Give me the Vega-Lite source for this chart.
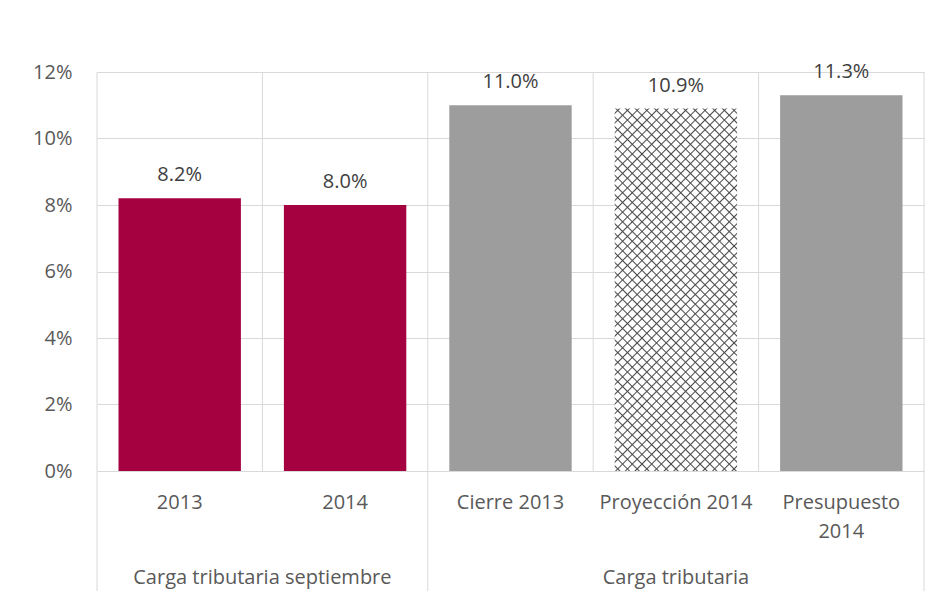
{
  "$schema": "https://vega.github.io/schema/vega-lite/v6.json",
  "width": 827,
  "height": 399,
  "autosize": {"type": "none"},
  "padding": {"left": 97, "top": 72, "right": 9, "bottom": 141},
  "background": "white",
  "config": {
    "font": "Open Sans",
    "view": {"stroke": null},
    "scale": {"bandPaddingInner": 0, "bandPaddingOuter": 0},
    "axisX": {"domain": false, "ticks": false, "grid": false, "labelPadding": 21, "labelFontSize": 20, "labelColor": "#595959", "labelAngle": 0, "labelLineHeight": 29, "labelFont": "Open Sans"},
    "axisY": {"domain": false, "ticks": false, "grid": true, "labelPadding": 25, "labelFontSize": 20, "labelColor": "#595959", "gridColor": "#d9d9d9", "gridWidth": 1, "labelFont": "Open Sans"}
  },
  "datasets": {
    "bars": [
      {"cat": "2013", "grupo": "Carga tributaria septiembre", "value": 0.082},
      {"cat": "2014", "grupo": "Carga tributaria septiembre", "value": 0.080},
      {"cat": "Cierre 2013", "grupo": "Carga tributaria", "value": 0.110},
      {"cat": "Proyección 2014", "grupo": "Carga tributaria", "value": 0.109},
      {"cat": "Presupuesto 2014", "grupo": "Carga tributaria", "value": 0.113}
    ],
    "groups": [
      {"grupo": "Carga tributaria septiembre", "cat": "2014"},
      {"grupo": "Carga tributaria", "cat": "Proyección 2014"}
    ]
  },
  "layer": [
    {
      "data": {"name": "bars"},
      "mark": {"type": "rule", "color": "#d9d9d9", "strokeWidth": 1},
      "encoding": {
        "x": {"field": "cat", "type": "nominal", "bandPosition": 0, "title": null,
              "scale": {"domain": ["2013", "2014", "Cierre 2013", "Proyección 2014", "Presupuesto 2014"]},
              "axis": {"labelExpr": "datum.label == 'Presupuesto 2014' ? ['Presupuesto', '2014'] : datum.label"}},
        "y": {"datum": 0.12, "type": "quantitative", "title": null},
        "y2": {"datum": 0}
      }
    },
    {
      "data": {"name": "bars"},
      "transform": [{"filter": "datum.cat == '2013' || datum.cat == 'Cierre 2013'"}],
      "mark": {"type": "rule", "color": "#d9d9d9", "strokeWidth": 1},
      "encoding": {
        "x": {"field": "cat", "type": "nominal", "bandPosition": 0, "title": null},
        "y": {"datum": 0, "type": "quantitative", "title": null},
        "y2": {"datum": -0.0361}
      }
    },
    {
      "data": {"name": "bars"},
      "transform": [{"filter": "datum.cat == 'Presupuesto 2014'"}],
      "mark": {"type": "rule", "color": "#d9d9d9", "strokeWidth": 1},
      "encoding": {
        "x": {"field": "cat", "type": "nominal", "bandPosition": 1, "title": null},
        "y": {"datum": 0.12, "type": "quantitative", "title": null},
        "y2": {"datum": -0.0361}
      }
    },
    {
      "data": {"name": "bars"},
      "transform": [{"filter": "datum.cat != 'Proyección 2014'"}],
      "mark": {"type": "bar", "width": {"band": 0.74}},
      "encoding": {
        "x": {"field": "cat", "type": "nominal", "title": null},
        "y": {"field": "value", "type": "quantitative", "title": null,
              "scale": {"domain": [0, 0.12], "nice": false},
              "axis": {"values": [0, 0.02, 0.04, 0.06, 0.08, 0.1, 0.12], "format": ".0%", "grid": true}},
        "color": {"field": "grupo", "type": "nominal", "legend": null,
                  "scale": {"domain": ["Carga tributaria septiembre", "Carga tributaria"], "range": ["#a50040", "#9d9d9d"]}}
      }
    },
    {
      "data": {"name": "bars"},
      "transform": [{"filter": "datum.cat == 'Proyección 2014'"}],
      "mark": {"type": "bar", "width": {"band": 0.74},
        "fill": {"gradient": "linear", "x1": 0, "y1": 0, "x2": 0.405, "y2": 1.2, "stops": [
          {"offset":0.007,"color":"#fff"},{"offset":0.01,"color":"#4a4a4a"},{"offset":0.013,"color":"#fff"},
          {"offset":0.027,"color":"#fff"},{"offset":0.03,"color":"#4a4a4a"},{"offset":0.033,"color":"#fff"},
          {"offset":0.047,"color":"#fff"},{"offset":0.05,"color":"#4a4a4a"},{"offset":0.053,"color":"#fff"},
          {"offset":0.067,"color":"#fff"},{"offset":0.07,"color":"#4a4a4a"},{"offset":0.073,"color":"#fff"},
          {"offset":0.087,"color":"#fff"},{"offset":0.09,"color":"#4a4a4a"},{"offset":0.093,"color":"#fff"},
          {"offset":0.107,"color":"#fff"},{"offset":0.11,"color":"#4a4a4a"},{"offset":0.113,"color":"#fff"},
          {"offset":0.127,"color":"#fff"},{"offset":0.13,"color":"#4a4a4a"},{"offset":0.133,"color":"#fff"},
          {"offset":0.147,"color":"#fff"},{"offset":0.15,"color":"#4a4a4a"},{"offset":0.153,"color":"#fff"},
          {"offset":0.167,"color":"#fff"},{"offset":0.17,"color":"#4a4a4a"},{"offset":0.173,"color":"#fff"},
          {"offset":0.187,"color":"#fff"},{"offset":0.19,"color":"#4a4a4a"},{"offset":0.193,"color":"#fff"},
          {"offset":0.207,"color":"#fff"},{"offset":0.21,"color":"#4a4a4a"},{"offset":0.213,"color":"#fff"},
          {"offset":0.227,"color":"#fff"},{"offset":0.23,"color":"#4a4a4a"},{"offset":0.233,"color":"#fff"},
          {"offset":0.247,"color":"#fff"},{"offset":0.25,"color":"#4a4a4a"},{"offset":0.253,"color":"#fff"},
          {"offset":0.267,"color":"#fff"},{"offset":0.27,"color":"#4a4a4a"},{"offset":0.273,"color":"#fff"},
          {"offset":0.287,"color":"#fff"},{"offset":0.29,"color":"#4a4a4a"},{"offset":0.293,"color":"#fff"},
          {"offset":0.307,"color":"#fff"},{"offset":0.31,"color":"#4a4a4a"},{"offset":0.313,"color":"#fff"},
          {"offset":0.327,"color":"#fff"},{"offset":0.33,"color":"#4a4a4a"},{"offset":0.333,"color":"#fff"},
          {"offset":0.347,"color":"#fff"},{"offset":0.35,"color":"#4a4a4a"},{"offset":0.353,"color":"#fff"},
          {"offset":0.367,"color":"#fff"},{"offset":0.37,"color":"#4a4a4a"},{"offset":0.373,"color":"#fff"},
          {"offset":0.387,"color":"#fff"},{"offset":0.39,"color":"#4a4a4a"},{"offset":0.393,"color":"#fff"},
          {"offset":0.407,"color":"#fff"},{"offset":0.41,"color":"#4a4a4a"},{"offset":0.413,"color":"#fff"},
          {"offset":0.427,"color":"#fff"},{"offset":0.43,"color":"#4a4a4a"},{"offset":0.433,"color":"#fff"},
          {"offset":0.447,"color":"#fff"},{"offset":0.45,"color":"#4a4a4a"},{"offset":0.453,"color":"#fff"},
          {"offset":0.467,"color":"#fff"},{"offset":0.47,"color":"#4a4a4a"},{"offset":0.473,"color":"#fff"},
          {"offset":0.487,"color":"#fff"},{"offset":0.49,"color":"#4a4a4a"},{"offset":0.493,"color":"#fff"},
          {"offset":0.507,"color":"#fff"},{"offset":0.51,"color":"#4a4a4a"},{"offset":0.513,"color":"#fff"},
          {"offset":0.527,"color":"#fff"},{"offset":0.53,"color":"#4a4a4a"},{"offset":0.533,"color":"#fff"},
          {"offset":0.547,"color":"#fff"},{"offset":0.55,"color":"#4a4a4a"},{"offset":0.553,"color":"#fff"},
          {"offset":0.567,"color":"#fff"},{"offset":0.57,"color":"#4a4a4a"},{"offset":0.573,"color":"#fff"},
          {"offset":0.587,"color":"#fff"},{"offset":0.59,"color":"#4a4a4a"},{"offset":0.593,"color":"#fff"},
          {"offset":0.607,"color":"#fff"},{"offset":0.61,"color":"#4a4a4a"},{"offset":0.613,"color":"#fff"},
          {"offset":0.627,"color":"#fff"},{"offset":0.63,"color":"#4a4a4a"},{"offset":0.633,"color":"#fff"},
          {"offset":0.647,"color":"#fff"},{"offset":0.65,"color":"#4a4a4a"},{"offset":0.653,"color":"#fff"},
          {"offset":0.667,"color":"#fff"},{"offset":0.67,"color":"#4a4a4a"},{"offset":0.673,"color":"#fff"},
          {"offset":0.687,"color":"#fff"},{"offset":0.69,"color":"#4a4a4a"},{"offset":0.693,"color":"#fff"},
          {"offset":0.707,"color":"#fff"},{"offset":0.71,"color":"#4a4a4a"},{"offset":0.713,"color":"#fff"},
          {"offset":0.727,"color":"#fff"},{"offset":0.73,"color":"#4a4a4a"},{"offset":0.733,"color":"#fff"},
          {"offset":0.747,"color":"#fff"},{"offset":0.75,"color":"#4a4a4a"},{"offset":0.753,"color":"#fff"},
          {"offset":0.767,"color":"#fff"},{"offset":0.77,"color":"#4a4a4a"},{"offset":0.773,"color":"#fff"},
          {"offset":0.787,"color":"#fff"},{"offset":0.79,"color":"#4a4a4a"},{"offset":0.793,"color":"#fff"},
          {"offset":0.807,"color":"#fff"},{"offset":0.81,"color":"#4a4a4a"},{"offset":0.813,"color":"#fff"},
          {"offset":0.827,"color":"#fff"},{"offset":0.83,"color":"#4a4a4a"},{"offset":0.833,"color":"#fff"},
          {"offset":0.847,"color":"#fff"},{"offset":0.85,"color":"#4a4a4a"},{"offset":0.853,"color":"#fff"},
          {"offset":0.867,"color":"#fff"},{"offset":0.87,"color":"#4a4a4a"},{"offset":0.873,"color":"#fff"},
          {"offset":0.887,"color":"#fff"},{"offset":0.89,"color":"#4a4a4a"},{"offset":0.893,"color":"#fff"},
          {"offset":0.907,"color":"#fff"},{"offset":0.91,"color":"#4a4a4a"},{"offset":0.913,"color":"#fff"},
          {"offset":0.927,"color":"#fff"},{"offset":0.93,"color":"#4a4a4a"},{"offset":0.933,"color":"#fff"},
          {"offset":0.947,"color":"#fff"},{"offset":0.95,"color":"#4a4a4a"},{"offset":0.953,"color":"#fff"},
          {"offset":0.967,"color":"#fff"},{"offset":0.97,"color":"#4a4a4a"},{"offset":0.973,"color":"#fff"},
          {"offset":0.987,"color":"#fff"},{"offset":0.99,"color":"#4a4a4a"},{"offset":0.993,"color":"#fff"}
        ]}},
      "encoding": {
        "x": {"field": "cat", "type": "nominal", "title": null},
        "y": {"field": "value", "type": "quantitative", "title": null}
      }
    },
    {
      "data": {"name": "bars"},
      "transform": [{"filter": "datum.cat == 'Proyección 2014'"}],
      "mark": {"type": "bar", "width": {"band": 0.74},
        "fill": {"gradient": "linear", "x1": 1, "y1": 0, "x2": 0.595, "y2": 1.2, "stops": [
          {"offset":0.007,"color":"rgba(74,74,74,0)"},{"offset":0.01,"color":"#4a4a4a"},{"offset":0.013,"color":"rgba(74,74,74,0)"},
          {"offset":0.027,"color":"rgba(74,74,74,0)"},{"offset":0.03,"color":"#4a4a4a"},{"offset":0.033,"color":"rgba(74,74,74,0)"},
          {"offset":0.047,"color":"rgba(74,74,74,0)"},{"offset":0.05,"color":"#4a4a4a"},{"offset":0.053,"color":"rgba(74,74,74,0)"},
          {"offset":0.067,"color":"rgba(74,74,74,0)"},{"offset":0.07,"color":"#4a4a4a"},{"offset":0.073,"color":"rgba(74,74,74,0)"},
          {"offset":0.087,"color":"rgba(74,74,74,0)"},{"offset":0.09,"color":"#4a4a4a"},{"offset":0.093,"color":"rgba(74,74,74,0)"},
          {"offset":0.107,"color":"rgba(74,74,74,0)"},{"offset":0.11,"color":"#4a4a4a"},{"offset":0.113,"color":"rgba(74,74,74,0)"},
          {"offset":0.127,"color":"rgba(74,74,74,0)"},{"offset":0.13,"color":"#4a4a4a"},{"offset":0.133,"color":"rgba(74,74,74,0)"},
          {"offset":0.147,"color":"rgba(74,74,74,0)"},{"offset":0.15,"color":"#4a4a4a"},{"offset":0.153,"color":"rgba(74,74,74,0)"},
          {"offset":0.167,"color":"rgba(74,74,74,0)"},{"offset":0.17,"color":"#4a4a4a"},{"offset":0.173,"color":"rgba(74,74,74,0)"},
          {"offset":0.187,"color":"rgba(74,74,74,0)"},{"offset":0.19,"color":"#4a4a4a"},{"offset":0.193,"color":"rgba(74,74,74,0)"},
          {"offset":0.207,"color":"rgba(74,74,74,0)"},{"offset":0.21,"color":"#4a4a4a"},{"offset":0.213,"color":"rgba(74,74,74,0)"},
          {"offset":0.227,"color":"rgba(74,74,74,0)"},{"offset":0.23,"color":"#4a4a4a"},{"offset":0.233,"color":"rgba(74,74,74,0)"},
          {"offset":0.247,"color":"rgba(74,74,74,0)"},{"offset":0.25,"color":"#4a4a4a"},{"offset":0.253,"color":"rgba(74,74,74,0)"},
          {"offset":0.267,"color":"rgba(74,74,74,0)"},{"offset":0.27,"color":"#4a4a4a"},{"offset":0.273,"color":"rgba(74,74,74,0)"},
          {"offset":0.287,"color":"rgba(74,74,74,0)"},{"offset":0.29,"color":"#4a4a4a"},{"offset":0.293,"color":"rgba(74,74,74,0)"},
          {"offset":0.307,"color":"rgba(74,74,74,0)"},{"offset":0.31,"color":"#4a4a4a"},{"offset":0.313,"color":"rgba(74,74,74,0)"},
          {"offset":0.327,"color":"rgba(74,74,74,0)"},{"offset":0.33,"color":"#4a4a4a"},{"offset":0.333,"color":"rgba(74,74,74,0)"},
          {"offset":0.347,"color":"rgba(74,74,74,0)"},{"offset":0.35,"color":"#4a4a4a"},{"offset":0.353,"color":"rgba(74,74,74,0)"},
          {"offset":0.367,"color":"rgba(74,74,74,0)"},{"offset":0.37,"color":"#4a4a4a"},{"offset":0.373,"color":"rgba(74,74,74,0)"},
          {"offset":0.387,"color":"rgba(74,74,74,0)"},{"offset":0.39,"color":"#4a4a4a"},{"offset":0.393,"color":"rgba(74,74,74,0)"},
          {"offset":0.407,"color":"rgba(74,74,74,0)"},{"offset":0.41,"color":"#4a4a4a"},{"offset":0.413,"color":"rgba(74,74,74,0)"},
          {"offset":0.427,"color":"rgba(74,74,74,0)"},{"offset":0.43,"color":"#4a4a4a"},{"offset":0.433,"color":"rgba(74,74,74,0)"},
          {"offset":0.447,"color":"rgba(74,74,74,0)"},{"offset":0.45,"color":"#4a4a4a"},{"offset":0.453,"color":"rgba(74,74,74,0)"},
          {"offset":0.467,"color":"rgba(74,74,74,0)"},{"offset":0.47,"color":"#4a4a4a"},{"offset":0.473,"color":"rgba(74,74,74,0)"},
          {"offset":0.487,"color":"rgba(74,74,74,0)"},{"offset":0.49,"color":"#4a4a4a"},{"offset":0.493,"color":"rgba(74,74,74,0)"},
          {"offset":0.507,"color":"rgba(74,74,74,0)"},{"offset":0.51,"color":"#4a4a4a"},{"offset":0.513,"color":"rgba(74,74,74,0)"},
          {"offset":0.527,"color":"rgba(74,74,74,0)"},{"offset":0.53,"color":"#4a4a4a"},{"offset":0.533,"color":"rgba(74,74,74,0)"},
          {"offset":0.547,"color":"rgba(74,74,74,0)"},{"offset":0.55,"color":"#4a4a4a"},{"offset":0.553,"color":"rgba(74,74,74,0)"},
          {"offset":0.567,"color":"rgba(74,74,74,0)"},{"offset":0.57,"color":"#4a4a4a"},{"offset":0.573,"color":"rgba(74,74,74,0)"},
          {"offset":0.587,"color":"rgba(74,74,74,0)"},{"offset":0.59,"color":"#4a4a4a"},{"offset":0.593,"color":"rgba(74,74,74,0)"},
          {"offset":0.607,"color":"rgba(74,74,74,0)"},{"offset":0.61,"color":"#4a4a4a"},{"offset":0.613,"color":"rgba(74,74,74,0)"},
          {"offset":0.627,"color":"rgba(74,74,74,0)"},{"offset":0.63,"color":"#4a4a4a"},{"offset":0.633,"color":"rgba(74,74,74,0)"},
          {"offset":0.647,"color":"rgba(74,74,74,0)"},{"offset":0.65,"color":"#4a4a4a"},{"offset":0.653,"color":"rgba(74,74,74,0)"},
          {"offset":0.667,"color":"rgba(74,74,74,0)"},{"offset":0.67,"color":"#4a4a4a"},{"offset":0.673,"color":"rgba(74,74,74,0)"},
          {"offset":0.687,"color":"rgba(74,74,74,0)"},{"offset":0.69,"color":"#4a4a4a"},{"offset":0.693,"color":"rgba(74,74,74,0)"},
          {"offset":0.707,"color":"rgba(74,74,74,0)"},{"offset":0.71,"color":"#4a4a4a"},{"offset":0.713,"color":"rgba(74,74,74,0)"},
          {"offset":0.727,"color":"rgba(74,74,74,0)"},{"offset":0.73,"color":"#4a4a4a"},{"offset":0.733,"color":"rgba(74,74,74,0)"},
          {"offset":0.747,"color":"rgba(74,74,74,0)"},{"offset":0.75,"color":"#4a4a4a"},{"offset":0.753,"color":"rgba(74,74,74,0)"},
          {"offset":0.767,"color":"rgba(74,74,74,0)"},{"offset":0.77,"color":"#4a4a4a"},{"offset":0.773,"color":"rgba(74,74,74,0)"},
          {"offset":0.787,"color":"rgba(74,74,74,0)"},{"offset":0.79,"color":"#4a4a4a"},{"offset":0.793,"color":"rgba(74,74,74,0)"},
          {"offset":0.807,"color":"rgba(74,74,74,0)"},{"offset":0.81,"color":"#4a4a4a"},{"offset":0.813,"color":"rgba(74,74,74,0)"},
          {"offset":0.827,"color":"rgba(74,74,74,0)"},{"offset":0.83,"color":"#4a4a4a"},{"offset":0.833,"color":"rgba(74,74,74,0)"},
          {"offset":0.847,"color":"rgba(74,74,74,0)"},{"offset":0.85,"color":"#4a4a4a"},{"offset":0.853,"color":"rgba(74,74,74,0)"},
          {"offset":0.867,"color":"rgba(74,74,74,0)"},{"offset":0.87,"color":"#4a4a4a"},{"offset":0.873,"color":"rgba(74,74,74,0)"},
          {"offset":0.887,"color":"rgba(74,74,74,0)"},{"offset":0.89,"color":"#4a4a4a"},{"offset":0.893,"color":"rgba(74,74,74,0)"},
          {"offset":0.907,"color":"rgba(74,74,74,0)"},{"offset":0.91,"color":"#4a4a4a"},{"offset":0.913,"color":"rgba(74,74,74,0)"},
          {"offset":0.927,"color":"rgba(74,74,74,0)"},{"offset":0.93,"color":"#4a4a4a"},{"offset":0.933,"color":"rgba(74,74,74,0)"},
          {"offset":0.947,"color":"rgba(74,74,74,0)"},{"offset":0.95,"color":"#4a4a4a"},{"offset":0.953,"color":"rgba(74,74,74,0)"},
          {"offset":0.967,"color":"rgba(74,74,74,0)"},{"offset":0.97,"color":"#4a4a4a"},{"offset":0.973,"color":"rgba(74,74,74,0)"},
          {"offset":0.987,"color":"rgba(74,74,74,0)"},{"offset":0.99,"color":"#4a4a4a"},{"offset":0.993,"color":"rgba(74,74,74,0)"}
        ]}},
      "encoding": {
        "x": {"field": "cat", "type": "nominal", "title": null},
        "y": {"field": "value", "type": "quantitative", "title": null}
      }
    },
    {
      "data": {"name": "bars"},
      "mark": {"type": "text", "baseline": "alphabetic", "dy": -17, "fontSize": 20, "color": "#404040", "font": "Open Sans"},
      "encoding": {
        "x": {"field": "cat", "type": "nominal", "title": null},
        "y": {"field": "value", "type": "quantitative", "title": null},
        "text": {"field": "value", "type": "quantitative", "format": ".1%"}
      }
    },
    {
      "data": {"name": "groups"},
      "transform": [{"filter": "datum.cat == '2014'"}],
      "mark": {"type": "text", "baseline": "alphabetic", "fontSize": 20, "color": "#595959", "font": "Open Sans"},
      "encoding": {
        "x": {"field": "cat", "type": "nominal", "bandPosition": 0, "title": null},
        "y": {"datum": -0.034, "type": "quantitative", "title": null},
        "text": {"field": "grupo", "type": "nominal"}
      }
    },
    {
      "data": {"name": "groups"},
      "transform": [{"filter": "datum.cat == 'Proyección 2014'"}],
      "mark": {"type": "text", "baseline": "alphabetic", "fontSize": 20, "color": "#595959", "font": "Open Sans"},
      "encoding": {
        "x": {"field": "cat", "type": "nominal", "bandPosition": 0.5, "title": null},
        "y": {"datum": -0.034, "type": "quantitative", "title": null},
        "text": {"field": "grupo", "type": "nominal"}
      }
    }
  ]
}
